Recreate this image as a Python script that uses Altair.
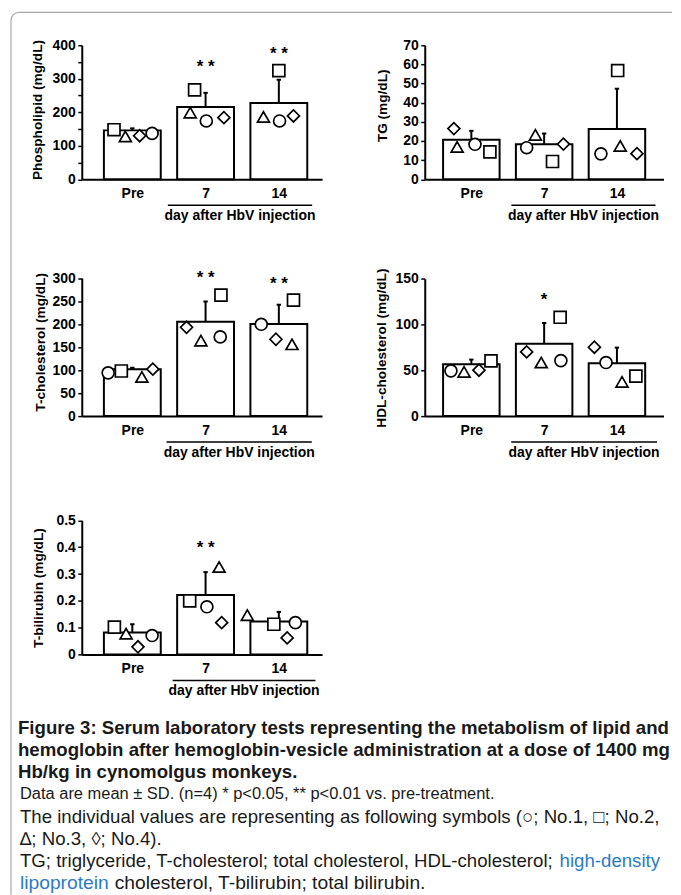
import altair as alt
import pandas as pd

FONT = "Liberation Sans"
FRAME = "#a8a8a8"
INK = "#1a1a1a"
LINK = "#2b7bc4"

GROUPS = ["Pre", "7", "14"]
ANIMALS = ["No.1", "No.2", "No.3", "No.4"]
SHAPES = ["circle", "square", "triangle-up", "diamond"]

# Phospholipid (mg/dL)
PL_MEAN = [146, 216, 228]
PL_SD = [6, 42, 69]
PL_PRE = [137, 148, 128, 130]
PL_D7 = [174, 267, 199, 184]
PL_D14 = [174, 324, 186, 189]
PL_STARS = ["", "* *", "* *"]
PL_STAR_Y = [0, 334, 374]

# TG (mg/dL)
TG_MEAN = [20.6, 18.3, 26.3]
TG_SD = [4.7, 5.6, 21.0]
TG_PRE = [18.3, 14.3, 16.9, 26.5]
TG_D7 = [16.5, 9.3, 23.2, 18.4]
TG_D14 = [13.3, 56.8, 17.4, 13.4]
TG_STARS = ["", "", ""]
TG_STAR_Y = [0, 0, 0]

# T-cholesterol (mg/dL)
TC_MEAN = [102, 205, 200]
TC_SD = [3, 44, 42]
TC_PRE = [94, 98, 85, 102]
TC_D7 = [172, 263, 164, 193]
TC_D14 = [199.5, 252, 156, 167]
TC_STARS = ["", "* *", "* *"]
TC_STAR_Y = [0, 300, 288]

# HDL-cholesterol (mg/dL)
HDL_MEAN = [56.7, 79.1, 57.8]
HDL_SD = [5, 22.6, 17]
HDL_PRE = [49.4, 60.3, 48.3, 50.1]
HDL_D7 = [60.6, 107.9, 58.5, 70.1]
HDL_D14 = [58.5, 43.6, 37.4, 75.2]
HDL_STARS = ["", "*", ""]
HDL_STAR_Y = [0, 127, 0]

# T-bilirubin (mg/dL)
TB_MEAN = [0.082, 0.222, 0.123]
TB_SD = [0.031, 0.085, 0.036]
TB_PRE = [0.071, 0.102, 0.078, 0.029]
TB_D7 = [0.178, 0.200, 0.326, 0.119]
TB_D14 = [0.119, 0.113, 0.147, 0.062]
TB_STARS = ["", "* *", ""]
TB_STAR_Y = [0, 0.395, 0]

# horizontal scatter of the individual symbols inside each bar (fraction of group step)
PL_JIT = [[0.27, -0.25, -0.095, 0.10], [0.01, -0.15, -0.21, 0.25], [0.01, 0.0, -0.21, 0.20]]
TG_JIT = [[0.05, 0.255, -0.195, -0.24], [-0.24, 0.115, -0.12, 0.265], [-0.22, 0.01, 0.045, 0.275]]
TC_JIT = [[-0.33, -0.15, 0.13, 0.28], [0.2, 0.21, -0.064, -0.26], [-0.24, 0.2, 0.18, -0.04]]
HDL_JIT = [[-0.28, 0.27, -0.1, 0.105], [0.23, 0.22, -0.04, -0.24], [-0.15, 0.26, 0.07, -0.31]]
TB_JIT = [[0.27, -0.245, -0.085, 0.077], [0.018, -0.217, 0.185, 0.22], [0.226, -0.068, -0.43, 0.114]]

CAPTION_BOLD = [
    "Figure 3: Serum laboratory tests representing the metabolism of lipid and",
    "hemoglobin after hemoglobin-vesicle administration at a dose of 1400 mg",
    "Hb/kg in cynomolgus monkeys.",
]
# caption text segments: (line, text, colour, horizontal anchor)
CAPTION_SEGMENTS = [
    (3, "Data are mean \u00b1 SD. (n=4) * p<0.05, ** p<0.01 vs. pre-treatment.", INK, "L"),
    (4, "The individual values are representing as following symbols (\u25cb; No.1, \u25a1; No.2,", INK, "L"),
    (5, "\u2206; No.3, \u25ca; No.4).", INK, "L"),
    (6, "TG; triglyceride, T-cholesterol; total cholesterol, HDL-cholesterol;", INK, "L"),
    (6, "high-density", LINK, "R"),
    (7, "lipoprotein", LINK, "L"),
    (7, "cholesterol, T-bilirubin; total bilirubin.", INK, "M"),
]
CAPTION_SIZE = {3: 16.5, 4: 18.7, 5: 18.7, 6: 18.7, 7: 19.3}

LABEL_EXPR_X = "[" + ",".join("'%s'" % g for g in GROUPS) + "][datum.value]"


def xaxis():
    return alt.Axis(values=[0, 1, 2], labelExpr=LABEL_EXPR_X, title=None, ticks=False,
                    tickSize=0, domainWidth=2, domainColor="black", labelFont=FONT,
                    labelFontSize=14, labelFontWeight="bold", labelColor="black",
                    labelPadding=7, grid=False, labelFlush=False)


def yaxis(title, vals, expr, tx, ty):
    kw = dict(values=vals, title=title, titleX=tx, titleY=ty, titleAngle=270,
              titleAlign="center", titleBaseline="middle", titleFont=FONT,
              titleFontSize=13.7, titleFontWeight="bold", titleColor="black",
              domainWidth=2, domainColor="black", tickColor="black", tickWidth=1.5,
              tickSize=4, labelPadding=2.5, labelFont=FONT, labelFontSize=14,
              labelFontWeight="bold", labelColor="black", grid=False,
              labelFlush=False, labelOverlap=False)
    if expr:
        kw["labelExpr"] = expr
    return alt.Axis(**kw)


def panel(title, ymax, yvals, yexpr, means, sds, pre, d7, d14, jit, stars, star_y,
          bracket, w, h, yrange, xdom, tx, ty, frame=False):
    xs = alt.Scale(domain=xdom, nice=False, zero=False)
    skw = dict(domain=[0, ymax], nice=False, zero=True)
    if yrange:
        skw["range"] = yrange
    ys = alt.Scale(**skw)
    xa = xaxis()
    ya = yaxis(title, yvals, yexpr, tx, ty)

    def X(f):
        return alt.X(f, type="quantitative", scale=xs, axis=xa)

    def Y(f):
        return alt.Y(f, type="quantitative", scale=ys, axis=ya)

    bars_df = pd.DataFrame({"g": [0, 1, 2], "mean": means, "sd": sds})
    base = alt.Chart(bars_df).transform_calculate(
        x1="datum.g - 0.388", x2="datum.g + 0.388", zero="0",
        hi="datum.mean + datum.sd", c1="datum.g - 0.03", c2="datum.g + 0.03")
    bars = base.mark_rect(fill="white", stroke="black", strokeWidth=2).encode(
        x=X("x1"), x2="x2:Q", y=Y("mean"), y2="zero:Q")
    stem = base.mark_rule(color="black", strokeWidth=2).encode(
        x=X("g"), y=Y("mean"), y2="hi:Q")
    cap = base.mark_rule(color="black", strokeWidth=2).encode(
        x=X("c1"), x2="c2:Q", y=Y("hi"))

    rows = []
    for gi, vals in enumerate([pre, d7, d14]):
        for ai, v in enumerate(vals):
            rows.append({"g": gi, "animal": ANIMALS[ai], "value": v, "j": jit[gi][ai]})
    pts_df = pd.DataFrame(rows)
    pts = alt.Chart(pts_df).transform_calculate(xp="datum.g + datum.j").mark_point(
        filled=True, fill="white", stroke="black", strokeWidth=1.7, size=144, opacity=1
    ).encode(
        x=X("xp"), y=Y("value"),
        shape=alt.Shape("animal:N", scale=alt.Scale(domain=ANIMALS, range=SHAPES), legend=None))

    br_df = pd.DataFrame({"b0": [bracket[0]], "b1": [bracket[1]]})
    br_base = alt.Chart(br_df).transform_calculate(bm="(datum.b0 + datum.b1) / 2")
    br = br_base.mark_rule(color="black", strokeWidth=1.5).encode(
        x=X("b0"), x2="b1:Q", y=alt.value(h + 26))
    br_txt = br_base.mark_text(font=FONT, fontSize=14, fontWeight="bold", color="black",
                               baseline="middle").encode(
        x=X("bm"), y=alt.value(h + 37), text=alt.value("day after HbV injection"))

    layers = [bars, stem, cap, pts, br, br_txt]

    st = [{"g": i, "sy": star_y[i], "txt": s} for i, s in enumerate(stars) if s]
    if st:
        layers.append(alt.Chart(pd.DataFrame(st)).mark_text(
            font=FONT, fontSize=17, fontWeight="bold", color="black", baseline="middle"
        ).encode(x=X("g"), y=Y("sy"), text="txt:N"))

    if frame:
        fdf = pd.DataFrame({"k": [0]})
        layers.append(alt.Chart(fdf).mark_rule(color=FRAME, strokeWidth=1.2).encode(
            x=alt.value(-71), y=alt.value(-25), y2=alt.value(852)))
        layers.append(alt.Chart(fdf).mark_rule(color=FRAME, strokeWidth=1.2).encode(
            x=alt.value(-63), x2=alt.value(592), y=alt.value(-33)))
        layers.append(alt.Chart(fdf).mark_arc(color=FRAME, theta=4.7124, theta2=6.2832,
                                              radius=8.6, radius2=7.4).encode(
            x=alt.value(-63), y=alt.value(-25)))

    return alt.layer(*layers).properties(width=w, height=h)


LEFT_DOM = [-0.69, 2.59]
RIGHT_DOM = [-0.64, 2.64]

p1 = panel("Phospholipid (mg/dL)", 400, list(range(0, 401, 50)),
           "datum.value % 100 == 0 ? datum.label : ''",
           PL_MEAN, PL_SD, PL_PRE, PL_D7, PL_D14, PL_JIT, PL_STARS, PL_STAR_Y,
           [0.485, 2.455], 241, 134.5, None, LEFT_DOM, -44.3, 64.5, frame=True)
p2 = panel("TG (mg/dL)", 70, list(range(0, 71, 10)), None,
           TG_MEAN, TG_SD, TG_PRE, TG_D7, TG_D14, TG_JIT, TG_STARS, TG_STAR_Y,
           [0.55, 2.53], 239.5, 134.5, None, RIGHT_DOM, -42.7, 60.3)
p3 = panel("T-cholesterol (mg/dL)", 300, list(range(0, 301, 50)), None,
           TC_MEAN, TC_SD, TC_PRE, TC_D7, TC_D14, TC_JIT, TC_STARS, TC_STAR_Y,
           [0.467, 2.45], 241, 177, [177, 38.5], LEFT_DOM, -41, 102.5)
p4 = panel("HDL-cholesterol (mg/dL)", 150, list(range(0, 151, 50)), None,
           HDL_MEAN, HDL_SD, HDL_PRE, HDL_D7, HDL_D14, HDL_JIT, HDL_STARS, HDL_STAR_Y,
           [0.548, 2.55], 239.5, 177, [177, 39.2], RIGHT_DOM, -43, 108.3)
p5 = panel("T-bilirubin (mg/dL)", 0.5, [0, 0.1, 0.2, 0.3, 0.4, 0.5],
           "datum.value == 0 ? '0' : format(datum.value, '.1f')",
           TB_MEAN, TB_SD, TB_PRE, TB_D7, TB_D14, TB_JIT, TB_STARS, TB_STAR_Y,
           [0.55, 2.5], 241, 179.2, [179.2, 44.5], LEFT_DOM, -43, 112)

# caption (sits in the grid cell right of the last panel; text drawn to the left)
cy = alt.Y("line:Q", scale=alt.Scale(domain=[0, 7], range=[252.5, 408.5]), axis=None)
bold_df = pd.DataFrame({"line": [0, 1, 2], "text": CAPTION_BOLD})
cap_layers = [alt.Chart(bold_df).mark_text(
    align="left", baseline="middle", font=FONT, fontSize=18.7, fontWeight="bold",
    color=INK).encode(x=alt.value(-408), y=cy, text="text:N")]
anchor_x = {"L": (-406, "left"), "R": (236, "right"), "M": (-311, "left")}
for key, (xpix, al) in anchor_x.items():
    seg = [{"line": ln, "text": t, "c": c, "fs": CAPTION_SIZE[ln]}
           for (ln, t, c, a) in CAPTION_SEGMENTS if a == key]
    cap_layers.append(alt.Chart(pd.DataFrame(seg)).mark_text(
        align=al, baseline="middle", font=FONT).encode(
        x=alt.value(xpix), y=cy, text="text:N", color=alt.Color("c:N", scale=None),
        size=alt.Size("fs:Q", scale=None)))
caption = alt.layer(*cap_layers).properties(width=239.5, height=179.2)

chart = alt.concat(p1, p2, p3, p4, p5, caption, columns=2,
                   spacing={"row": 60, "column": 103}, bounds="flush").properties(
    padding={"left": 2, "top": 2, "right": 0, "bottom": 0}
).configure_view(stroke=None)

chart.save("out.html", embed_options={"renderer": "svg", "actions": False})
